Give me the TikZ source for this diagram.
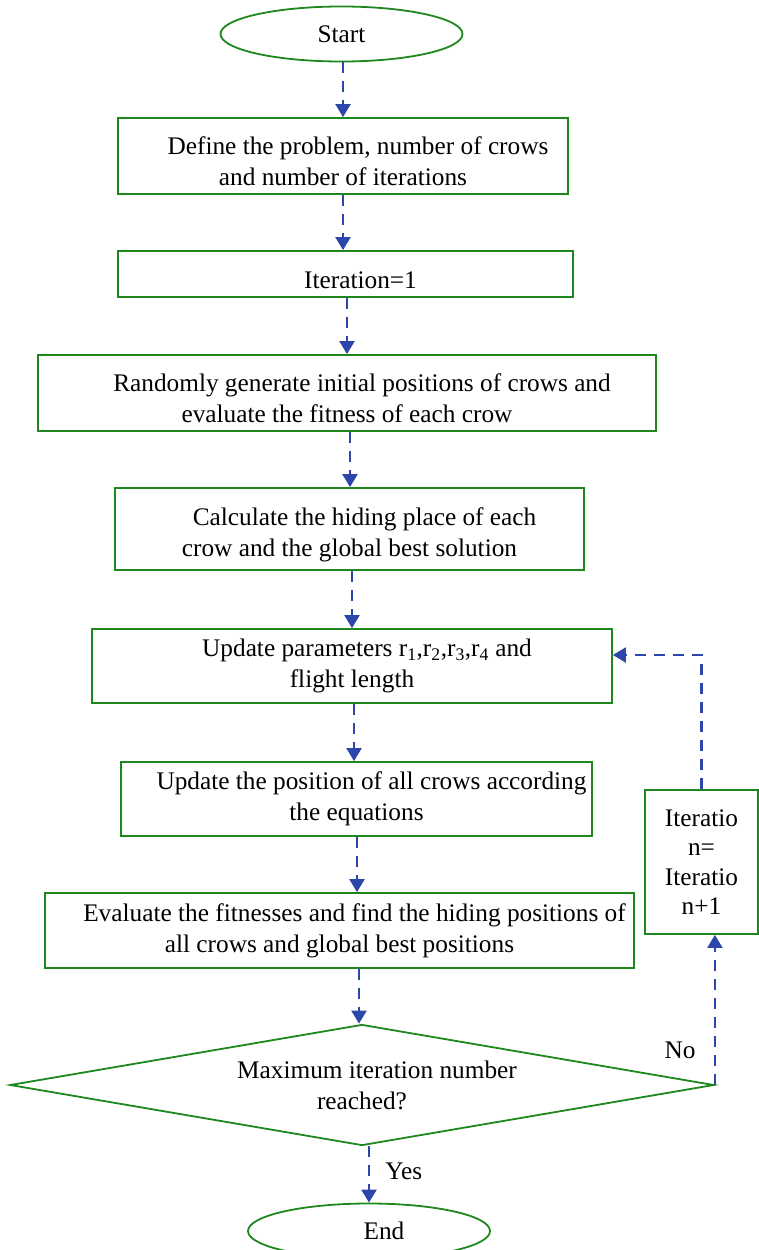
\documentclass[tikz,border=0pt]{standalone}
\usepackage{fontspec}
\setmainfont{Liberation Serif}
\usetikzlibrary{shapes.geometric,arrows.meta}
\definecolor{boxgreen}{RGB}{30,135,30}
\definecolor{flowblue}{RGB}{45,70,170}
% first line of a box is indented; some boxes get a little extra room above
\newcommand{\stepindent}{\hspace*{30pt}}
\newcommand{\stepdrop}{\rule{0pt}{29pt}}

\begin{document}
\begin{tikzpicture}[x=1pt, y=-1pt,
  every node/.style={font=\fontsize{25.3}{31}\selectfont},
  outline/.style={draw=boxgreen, line width=1.8pt, inner sep=0pt, align=center},
  terminal/.style={outline, ellipse, minimum width=242pt, minimum height=55pt},
  stepbox/.style 2 args={outline, rectangle, minimum width=#1pt, minimum height=#2pt},
  decision/.style={outline, diamond, aspect=5.8, minimum width=704pt, minimum height=121pt},
  flow/.style={draw=flowblue, line width=2.2pt, dash pattern=on 11pt off 8pt,
    -{Triangle[width=15pt, length=13pt]}}]
  \useasboundingbox (0,0) rectangle (758,1250);

  % main column
  \node[terminal] (start) at (341.5,34) {Start};
  \node[stepbox={450}{76}] (define) at (343,156) {\stepindent\stepdrop Define the problem, number of crows\\and number of iterations};
  \node[stepbox={455}{46}] (init) at (345.5,274) {\stepindent\stepdrop Iteration=1};
  \node[stepbox={618}{76}] (random) at (347,393) {\stepindent\stepdrop Randomly generate initial positions of crows and\\evaluate the fitness of each crow};
  \node[stepbox={469}{82}] (hiding) at (349.5,529) {\stepindent\stepdrop Calculate the hiding place of each\\crow and the global best solution};
  \node[stepbox={520}{74}] (params) at (352,666) {\stepindent Update parameters r\textsubscript{1},r\textsubscript{2},r\textsubscript{3},r\textsubscript{4} and\\flight length};
  \node[stepbox={471}{74}] (move) at (356.5,799) {\stepindent Update the position of all crows according\\the equations};
  \node[stepbox={589}{75}] (evaluate) at (339.5,930.5) {\stepindent Evaluate the fitnesses and find the hiding positions of\\all crows and global best positions};
  \node[decision] (maxit) at (362,1085) {\stepindent Maximum iteration number\\reached?};
  \node[terminal] (finish) at (369,1231) {\stepindent End};

  % counter update on the right
  \node[outline, rectangle, minimum width=113pt, minimum height=144pt,
    font=\fontsize{25.3}{29.5}\selectfont] (incr) at (701.5,862)
    {Iteratio\\n=\\Iteratio\\n+1};

  % arrows down the column
  \draw[flow] (start.south -| 343,0) -- (define.north -| 343,0);
  \draw[flow] (define.south -| 343,0) -- (init.north -| 343,0);
  \draw[flow] (init.south -| 347,0) -- (random.north -| 347,0);
  \draw[flow] (random.south -| 350,0) -- (hiding.north -| 350,0);
  \draw[flow] (hiding.south -| 352,0) -- (params.north -| 352,0);
  \draw[flow] (params.south -| 354,0) -- (move.north -| 354,0);
  \draw[flow] (move.south -| 357,0) -- (evaluate.north -| 357,0);
  \draw[flow] (evaluate.south -| 359,0) -- (maxit.north -| 359,0);
  \draw[flow] (maxit.south -| finish.north) -- (finish.north)
    node[pos=0.45, right=12pt] (yes) {Yes};

  % loop back
  \draw[flow] (maxit.east) -- (maxit.east |- incr.south);
  \node (no) at (680,1050) {No};
  \draw[flow] (incr.north) |- ([yshift=11pt]params.east);
\end{tikzpicture}
\end{document}
